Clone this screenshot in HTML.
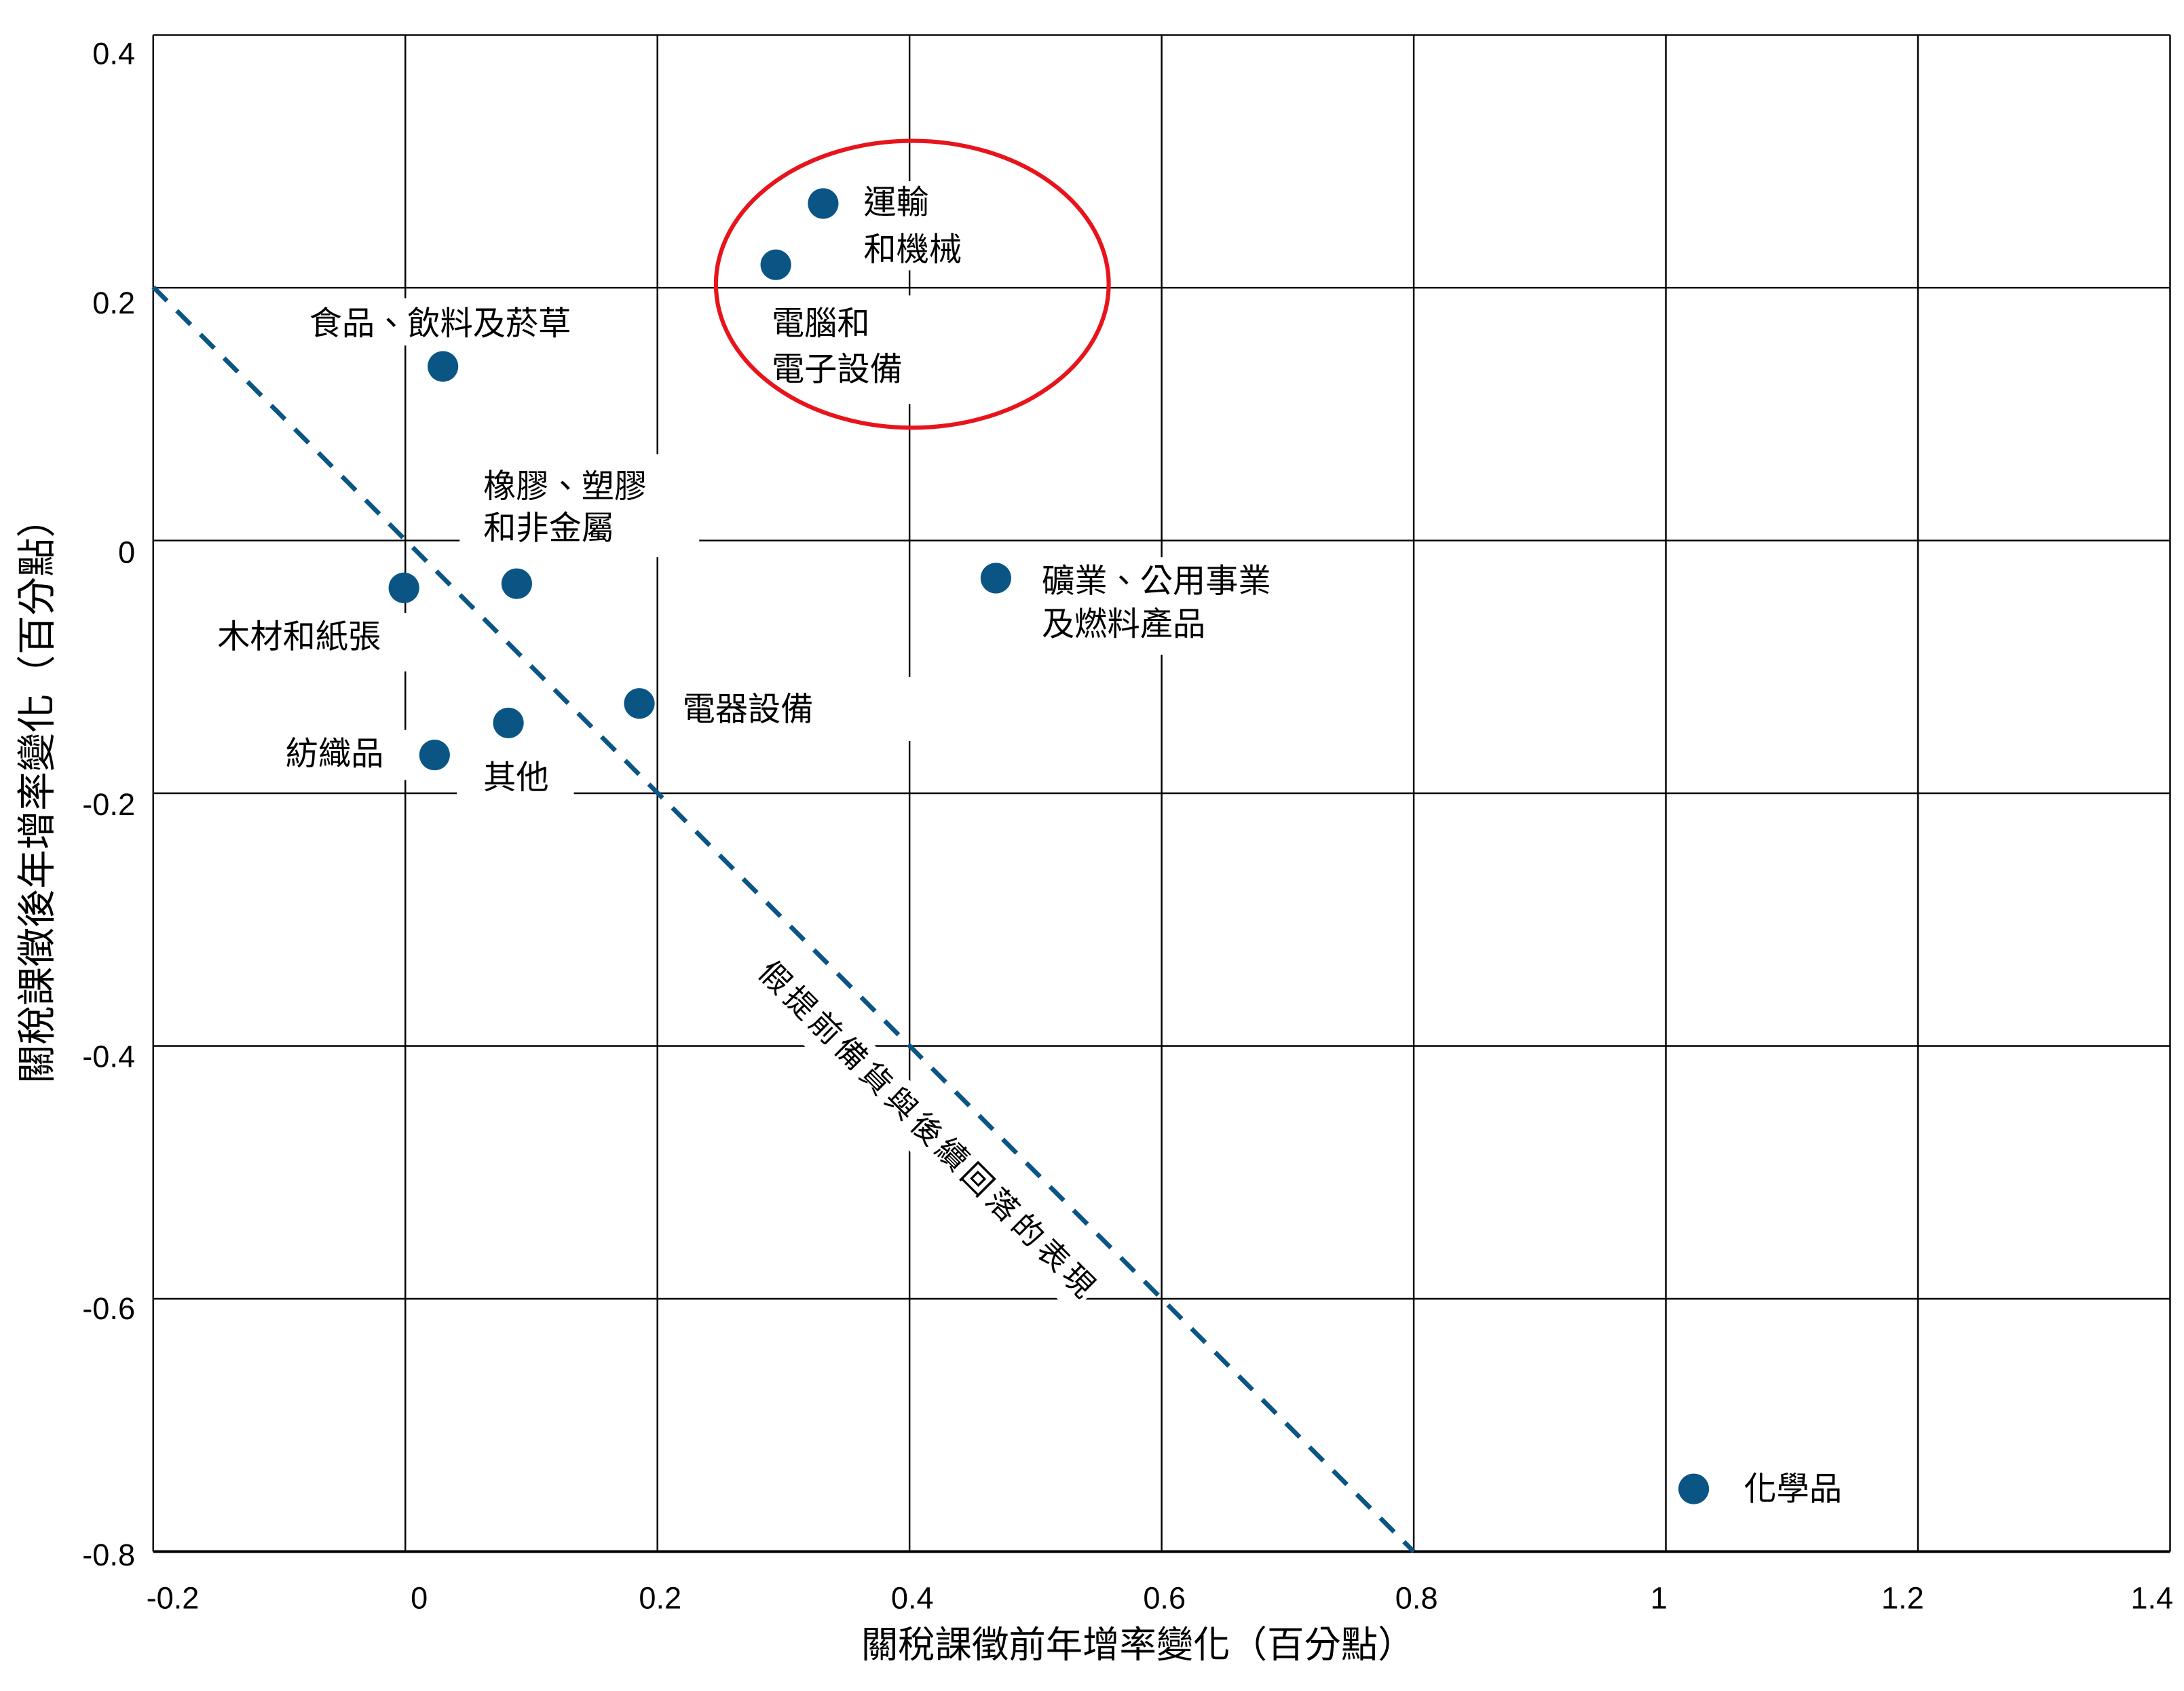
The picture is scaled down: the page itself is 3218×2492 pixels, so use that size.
<!DOCTYPE html>
<html><head><meta charset="utf-8">
<style>
html,body{margin:0;padding:0;background:#fff;}
svg{display:block;}
text{font-family:"Liberation Sans","Noto Sans CJK TC",sans-serif;fill:#000;}
.lb{font-size:23.5px;}
.tk{font-size:22px;}
</style></head>
<body>
<svg width="3218" height="2492" viewBox="0 0 1568 1214" xmlns="http://www.w3.org/2000/svg">
<rect width="1568" height="1214" fill="#fff"/>
<g stroke="#000" stroke-width="1.2" fill="none">
<line x1="110" y1="25" x2="110" y2="1114"/>
<line x1="291" y1="25" x2="291" y2="1114"/>
<line x1="472" y1="25" x2="472" y2="1114"/>
<line x1="653" y1="25" x2="653" y2="1114"/>
<line x1="834" y1="25" x2="834" y2="1114"/>
<line x1="1015" y1="25" x2="1015" y2="1114"/>
<line x1="1196" y1="25" x2="1196" y2="1114"/>
<line x1="1377" y1="25" x2="1377" y2="1114"/>
<line x1="1558" y1="25" x2="1558" y2="1114"/>
<line x1="110" y1="25" x2="1558" y2="25"/>
<line x1="110" y1="206.5" x2="1558" y2="206.5"/>
<line x1="110" y1="388" x2="1558" y2="388"/>
<line x1="110" y1="569.5" x2="1558" y2="569.5"/>
<line x1="110" y1="751" x2="1558" y2="751"/>
<line x1="110" y1="932.5" x2="1558" y2="932.5"/>
</g>
<line x1="110" y1="1114" x2="1558" y2="1114" stroke="#000" stroke-width="2"/>
<g fill="#fff">
<rect x="216" y="214" width="206" height="34"/>
<rect x="330" y="326" width="172" height="74"/>
<rect x="150" y="440" width="150" height="42"/>
<rect x="198" y="524" width="102" height="36"/>
<rect x="328" y="540" width="84" height="36"/>
<rect x="482" y="486" width="178" height="46"/>
<rect x="740" y="400" width="186" height="70"/>
<rect x="546" y="212" width="112" height="78"/>
<rect x="612" y="130" width="90" height="64"/>
<rect x="-170" y="-18" width="340" height="36" transform="translate(662,810) rotate(45)"/>
</g>
<line x1="110" y1="206" x2="1015" y2="1114" stroke="#0b5585" stroke-width="3.3" stroke-dasharray="14,10"/>
<ellipse cx="655" cy="204" rx="141" ry="103" fill="none" stroke="#e8141b" stroke-width="3"/>
<g fill="#0b5585">
<circle cx="591" cy="146" r="11"/>
<circle cx="557" cy="190" r="11"/>
<circle cx="318" cy="263" r="11"/>
<circle cx="371" cy="419" r="11"/>
<circle cx="290" cy="422" r="11"/>
<circle cx="715" cy="415" r="11"/>
<circle cx="459" cy="505" r="11"/>
<circle cx="365" cy="519" r="11"/>
<circle cx="312" cy="542" r="11"/>
<circle cx="1216" cy="1069" r="11"/>
</g>
<g class="lb">
<text x="620" y="153">運輸</text>
<text x="620" y="187">和機械</text>
<text x="554" y="240">電腦和</text>
<text x="554" y="273">電子設備</text>
<text x="222" y="240">食品、飲料及菸草</text>
<text x="347" y="357">橡膠、塑膠</text>
<text x="347" y="387">和非金屬</text>
<text x="156" y="465">木材和紙張</text>
<text x="748" y="425">礦業、公用事業</text>
<text x="748" y="456">及燃料產品</text>
<text x="490" y="517">電器設備</text>
<text x="205" y="549">紡織品</text>
<text x="347" y="566">其他</text>
<text x="1252" y="1077">化學品</text>
</g>
<text font-size="22" text-anchor="middle" transform="translate(660,816) rotate(45)" textLength="330">假提前備貨與後續回落的表現</text>
<g class="tk" text-anchor="end">
<text x="97" y="46">0.4</text>
<text x="97" y="225">0.2</text>
<text x="97" y="404">0</text>
<text x="97" y="585">-0.2</text>
<text x="97" y="766">-0.4</text>
<text x="97" y="947">-0.6</text>
<text x="97" y="1124">-0.8</text>
</g>
<g class="tk" text-anchor="middle">
<text x="124" y="1155">-0.2</text>
<text x="301" y="1155">0</text>
<text x="474" y="1155">0.2</text>
<text x="655" y="1155">0.4</text>
<text x="836" y="1155">0.6</text>
<text x="1017" y="1155">0.8</text>
<text x="1191" y="1155">1</text>
<text x="1366" y="1155">1.2</text>
<text x="1545" y="1155">1.4</text>
</g>
<text x="817" y="1190" font-size="26.5" text-anchor="middle">關稅課徵前年增率變化（百分點）</text>
<text font-size="28" text-anchor="middle" transform="translate(36,568) rotate(-90)">關稅課徵後年增率變化（百分點）</text>
</svg>
</body></html>
